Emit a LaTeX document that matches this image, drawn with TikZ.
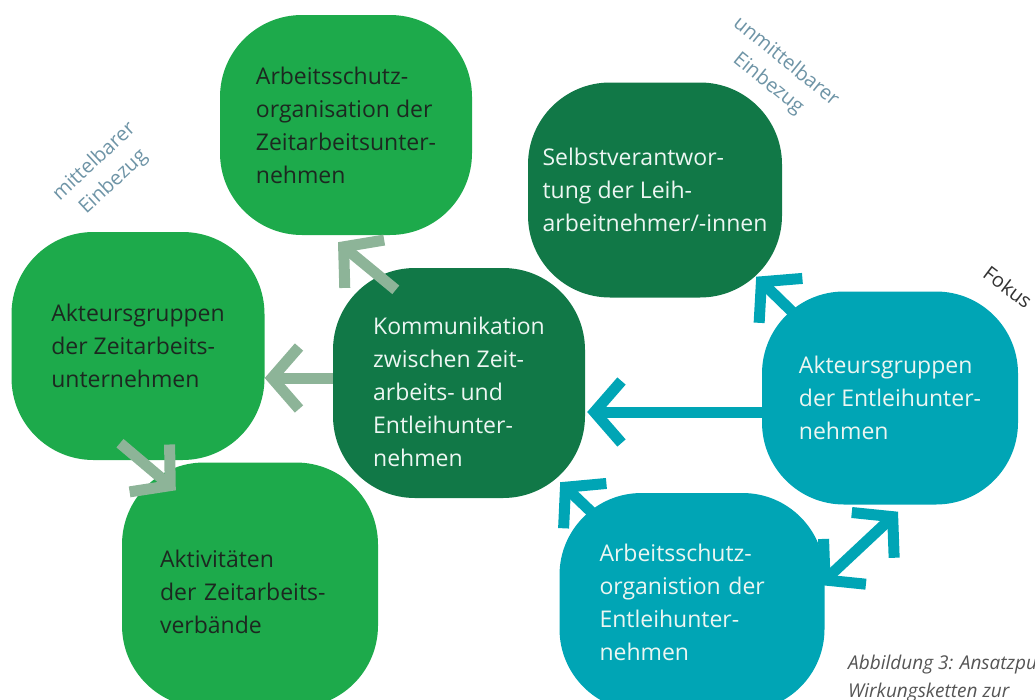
\documentclass[tikz,border=0pt]{standalone}
\usepackage{fontspec}
\setmainfont{Open Sans}
\usetikzlibrary{arrows.meta,calc,positioning}
\definecolor{zeitColor}{RGB}{29,170,75}
\definecolor{kommColor}{RGB}{17,120,71}
\definecolor{entleihColor}{RGB}{0,165,181}
\definecolor{pfeilColor}{RGB}{141,180,152}
\definecolor{labelColor}{RGB}{110,148,166}
\definecolor{darkText}{RGB}{28,40,32}
\definecolor{lightText}{RGB}{236,246,242}
\definecolor{captionColor}{RGB}{85,85,85}
\tikzset{blob/.style={align=left, minimum width=252pt, minimum height=220pt, rounded corners=82pt, inner sep=0pt, font=\fontsize{23}{33}\selectfont}}
\tikzset{zeit/.style={blob, fill=zeitColor, text=darkText}}
\tikzset{kommunikation/.style={blob, fill=kommColor, text=lightText}}
\tikzset{entleih/.style={blob, fill=entleihColor, text=lightText}}
\tikzset{barb/.tip={Straight Barb[length=27pt, width=62pt]}}
\tikzset{pfeil/.style={line width=11pt, pfeilColor, -barb}}
\tikzset{pfeilEntleih/.style={pfeil, entleihColor}}
\tikzset{einbezug/.style={text=labelColor, align=center, font=\fontsize{20}{28}\selectfont}}

\begin{document}
\begin{tikzpicture}[x=1pt, y=-1pt]
\clip (0,0) rectangle (1035,699);
% Nodes
\node (TopOrg) [zeit, minimum width=252pt, minimum height=220pt] at (346,125) {Arbeitsschutz-\\organisation der\\Zeitarbeitsunter-\\nehmen};
\node (Selbst) [kommunikation, minimum width=254pt, minimum height=215pt] at (655,190) {Selbstverantwor-\\tung der Leih-\\arbeitnehmer/-innen};
\node (LeftGroups) [zeit, minimum width=253pt, minimum height=228pt] at (138,346) {Akteursgruppen\\der Zeitarbeits-\\unternehmen};
\node (Komm) [kommunikation, minimum width=252pt, minimum height=230pt] at (459,383) {\rule{0pt}{36pt}Kommunikation\\zwischen Zeit-\\arbeits- und\\Entleihunter-\\nehmen};
\node (Verbaende) [zeit, minimum width=256pt, minimum height=245pt, inner xsep=38pt, text width=180pt] at (250,585) {\rule{0pt}{32pt}Aktivitäten\\der Zeitarbeits-\\verbände};
\node (RightGroups) [entleih, minimum width=256pt, minimum height=213pt] at (890,398) {Akteursgruppen\\der Entleihunter-\\nehmen};
\node (EntleihOrg) [entleih, minimum width=265pt, minimum height=218pt, inner xsep=40pt, text width=185pt] at (692,602) {Arbeitsschutz-\\organistion der\\Entleihunter-\\nehmen};

% Labels
\node (Mittelbar) [einbezug, rotate=43] at (104,172) {mittelbarer\\Einbezug};
\node (Unmittelbar) [einbezug, rotate=-39] at (777,73) {unmittelbarer\\Einbezug};
\node (Fokus) [text=black!80, font=\fontsize{20}{24}\selectfont, rotate=-37] at (1008,287) {Fokus};
\node (Caption) [anchor=north west, inner sep=0pt, align=left, text=captionColor, font=\itshape\fontsize{19}{28}\selectfont] at (848,655) {Abbildung 3: Ansatzpunkte\\Wirkungsketten zur};

% Connectors
\draw [pfeil] ($(Komm.north west)+(63,22)$) -- ($(TopOrg.south)+(-8,7)$);
\draw [pfeil] ($(Komm.west)+(0,-5)$) -- ($(LeftGroups.east)+(0,32)$);
\draw [pfeil] ($(LeftGroups.south)+(-18,-17)$) -- ($(Verbaende.north west)+(54,28)$);

\draw [pfeilEntleih] ($(RightGroups.west)+(0,14)$) -- ($(Komm.east)+(2,29)$);
\draw [pfeilEntleih] ($(RightGroups.north west)+(33,23)$) -- ($(Selbst.south east)+(-26,-21)$);
\draw [pfeilEntleih] ($(EntleihOrg.north west)+(34,21)$) -- ($(Komm.south east)+(-25,-16)$);
\draw [pfeilEntleih, barb-barb] ($(EntleihOrg.east)+(-5,-17)$) -- ($(RightGroups.south)+(8,7)$);
\end{tikzpicture}
\end{document}
